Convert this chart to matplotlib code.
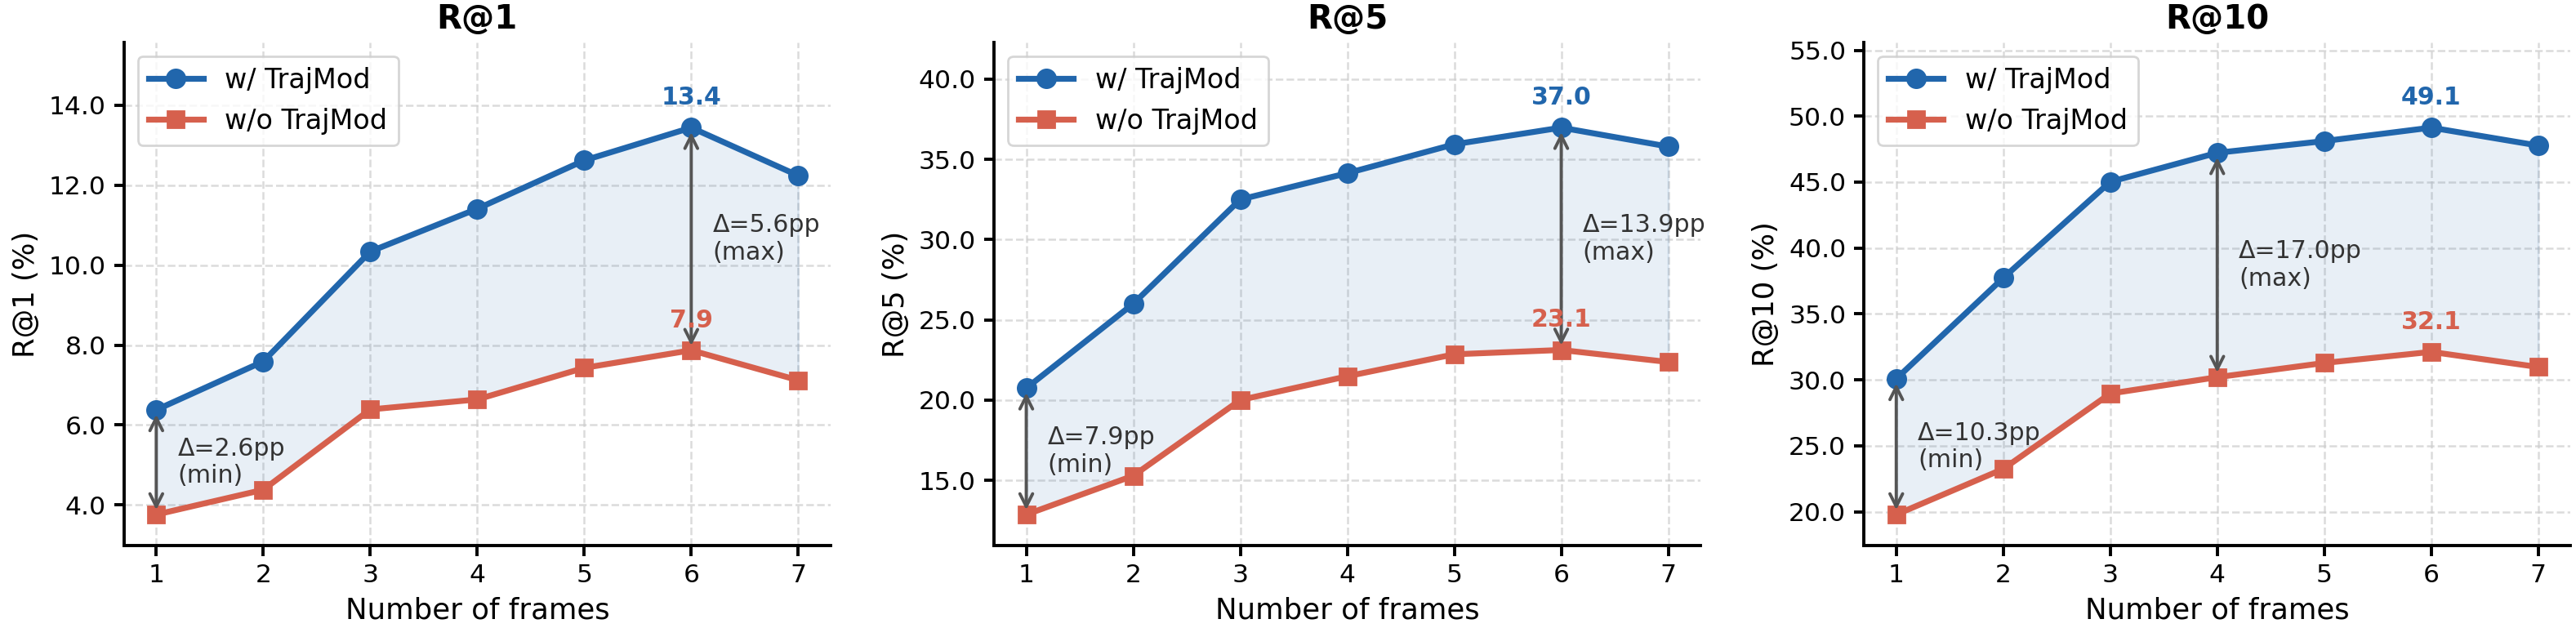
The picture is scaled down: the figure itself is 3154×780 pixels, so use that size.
import matplotlib
matplotlib.use("Agg")
import matplotlib.pyplot as plt
import numpy as np
from matplotlib.ticker import FormatStrFormatter

frames = [1, 2, 3, 4, 5, 6, 7]
metric_names = ["R@1", "R@5", "R@10"]

r1_with = [6.38, 7.59, 10.34, 11.41, 12.62, 13.44, 12.24]
r1_without = [3.76, 4.38, 6.39, 6.64, 7.43, 7.87, 7.12]
r5_with = [20.74, 26.0, 32.5, 34.14, 35.94, 36.98, 35.8]
r5_without = [12.86, 15.28, 20.0, 21.48, 22.85, 23.12, 22.37]
r10_with = [30.08, 37.73, 45.02, 47.22, 48.11, 49.13, 47.77]
r10_without = [19.78, 23.24, 28.96, 30.2, 31.28, 32.12, 30.97]

BLUE = "#2166ac"
RED = "#d6604d"
GREY = "#555555"

plt.rcParams.update({
    "font.family": "DejaVu Sans",
    "axes.linewidth": 1.4,
    "xtick.major.width": 1.4,
    "ytick.major.width": 1.4,
    "xtick.major.size": 4.5,
    "ytick.major.size": 4.5,
    "xtick.labelsize": 11.3,
    "ytick.labelsize": 11.3,
})

fig, axes = plt.subplots(1, 3, figsize=(3154 / 200, 780 / 200), dpi=200)
fig.subplots_adjust(left=0.0482, right=0.9978, bottom=0.1436, top=0.9333, wspace=0.232)

series = [(r1_with, r1_without), (r5_with, r5_without), (r10_with, r10_without)]
x = np.array(frames)

for ax, name, (w, wo) in zip(axes, metric_names, series):
    w = np.array(w)
    wo = np.array(wo)

    ax.fill_between(x, wo, w, color=BLUE, alpha=0.1, zorder=1)
    ax.plot(x, w, color=BLUE, lw=2.6, marker="o", ms=8, label="w/ TrajMod", zorder=3)
    ax.plot(x, wo, color=RED, lw=2.6, marker="s", ms=7.5, label="w/o TrajMod", zorder=3)

    # gap arrows: min and max
    gap = w - wo
    for idx, tag in [(int(np.argmin(gap)), "min"), (int(np.argmax(gap)), "max")]:
        ax.annotate("", xy=(x[idx], w[idx]), xytext=(x[idx], wo[idx]),
                    arrowprops=dict(arrowstyle="<->", color=GREY, lw=1.4,
                                    mutation_scale=14), zorder=4)
        ax.text(x[idx] + 0.2, (w[idx] + wo[idx]) / 2,
                f"\u0394={gap[idx]:.1f}pp\n({tag})",
                ha="left", va="center", fontsize=10.8, color="#333333", zorder=5)

    # peak labels
    for vals, color in [(w, BLUE), (wo, RED)]:
        i = int(np.argmax(vals))
        ax.annotate(f"{vals[i]:.1f}", xy=(x[i], vals[i]), xytext=(0, 8),
                    textcoords="offset points", ha="center", va="bottom",
                    fontsize=10.8, fontweight="bold", color=color, zorder=5)

    lo, hi = wo.min(), w.max()
    rng = hi - lo
    ax.set_ylim(lo - 0.08 * rng, hi + 0.22 * rng)
    ax.set_xlim(0.7, 7.3)
    ax.set_xticks(frames)
    ax.yaxis.set_major_formatter(FormatStrFormatter("%.1f"))

    ax.set_title(name, fontsize=14.5, fontweight="bold")
    ax.set_xlabel("Number of frames", fontsize=12.8)
    ax.set_ylabel(f"{name} (%)", fontsize=12.8)
    ax.grid(True, linestyle="--", color="#cccccc", lw=0.9, alpha=0.7)
    ax.set_axisbelow(True)
    ax.spines["top"].set_visible(False)
    ax.spines["right"].set_visible(False)
    ax.legend(loc="upper left", fontsize=12)

plt.savefig("out.png", dpi=200)
